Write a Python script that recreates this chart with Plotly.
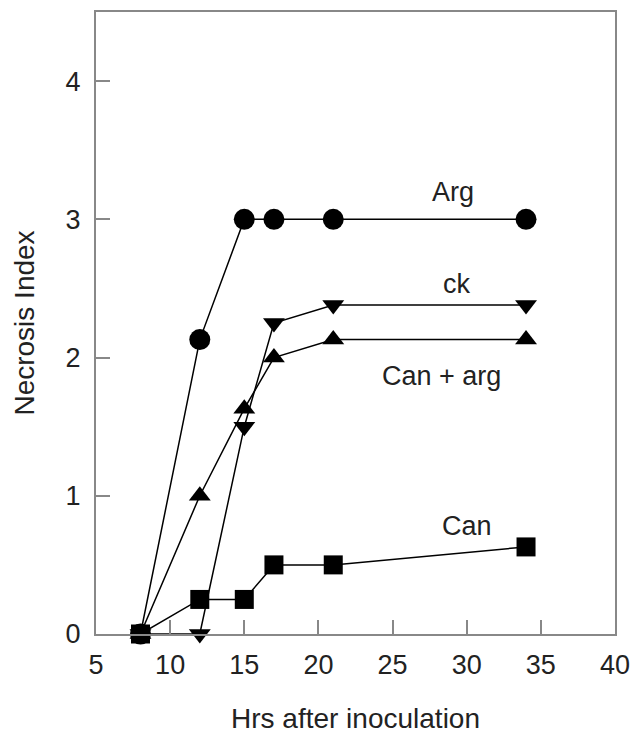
import plotly.graph_objects as go

hours = [8, 12, 15, 17, 21, 34]
arg = [0, 2.13, 3, 3, 3, 3]
ck = [0, 0, 1.5, 2.25, 2.38, 2.38]
can_arg = [0, 1, 1.63, 2, 2.13, 2.13]
can = [0, 0.25, 0.25, 0.5, 0.5, 0.63]

series = [
    ("Can", can, "square", 19),
    ("Can + arg", can_arg, "triangle-up", 19),
    ("ck", ck, "triangle-down", 19),
    ("Arg", arg, "circle", 21),
]

label_text = ["Arg", "ck", "Can + arg", "Can"]
label_x = [29.1, 29.35, 28.3, 30.0]
label_y = [3.2, 2.53, 1.87, 0.78]

FONT = "Liberation Sans, Arial, sans-serif"
fig = go.Figure()
for name, ys, sym, sz in series:
    fig.add_trace(go.Scatter(
        x=hours, y=ys, mode="lines+markers", name=name,
        line=dict(color="black", width=1.5),
        marker=dict(symbol=sym, size=sz, color="black"),
        cliponaxis=False, showlegend=False,
    ))

for t, x, y in zip(label_text, label_x, label_y):
    fig.add_annotation(x=x, y=y, text=t, showarrow=False,
                       font=dict(family=FONT, size=27, color="#222"))

axis_common = dict(
    showline=True, linecolor="#888", linewidth=2, mirror=True,
    ticks="inside", ticklen=14, tickcolor="#888", tickwidth=1.5,
    showgrid=False, zeroline=False,
    tickfont=dict(family=FONT, size=27, color="#222"),
)

fig.update_xaxes(range=[5, 40], dtick=5, tick0=5, ticklabelstandoff=6,
                 title=dict(text="Hrs after inoculation",
                            font=dict(family=FONT, size=28, color="#222"), standoff=30),
                 **axis_common)
fig.update_yaxes(range=[0, 4.5], tickvals=[0, 1, 2, 3, 4], ticklabelstandoff=8,
                 title=dict(text="Necrosis Index",
                            font=dict(family=FONT, size=28, color="#222"), standoff=23),
                 **axis_common)

fig.update_layout(
    width=638, height=734,
    margin=dict(l=96, r=23, t=12, b=100, autoexpand=False),
    paper_bgcolor="white", plot_bgcolor="white",
    font=dict(family=FONT, color="#222"),
)

fig.write_html("out.html")
